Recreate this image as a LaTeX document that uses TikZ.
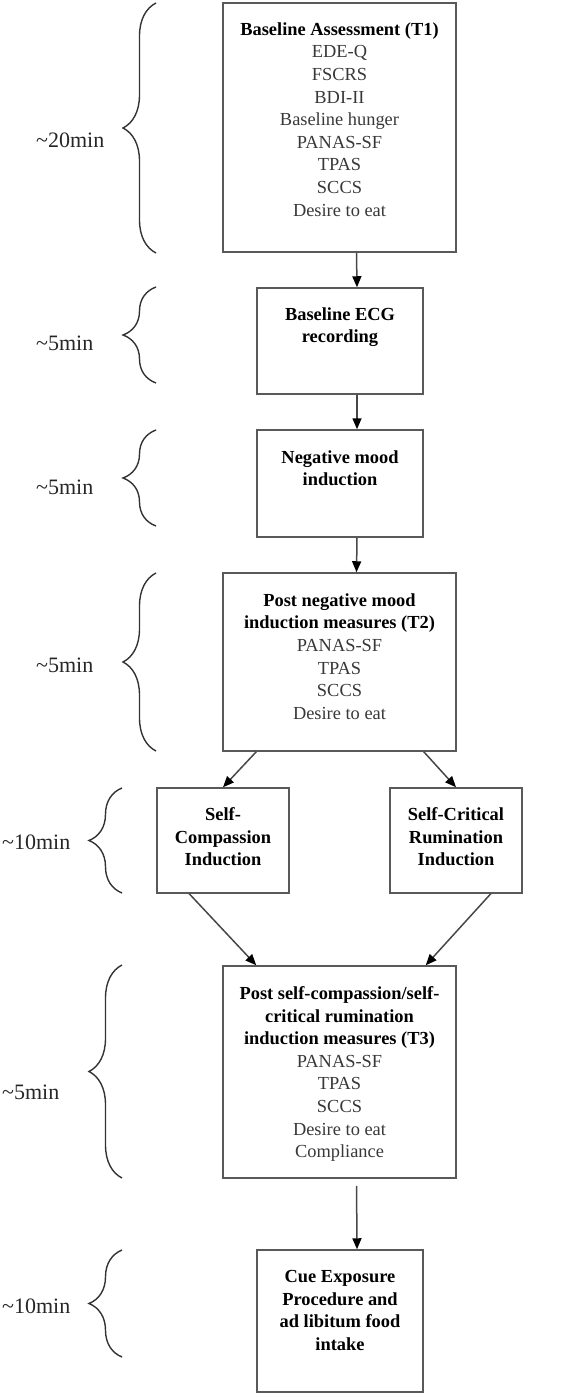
\documentclass[tikz,border=0pt]{standalone}
\usepackage{fontspec}
\setmainfont{Liberation Serif}
\usetikzlibrary{positioning,arrows.meta,decorations.pathreplacing}

\newcommand{\hd}[1]{\textcolor{black}{\textbf{#1}}}

\tikzset{
	box/.style={draw=black!65, line width=1.5pt, inner sep=0pt},
	boxtext/.style={align=center, inner sep=0pt, text=black!78, font=\fontsize{18.4}{22.6}\selectfont},
	flow/.style={draw=black!72, line width=1.5pt, -{Triangle[length=11pt,width=9pt,color=black]}},
	timebrace/.style={draw=black!80, line width=1.4pt, decorate, decoration={brace,amplitude=33pt}},
	duration/.style={anchor=west, inner sep=0pt, text=black!85, font=\fontsize{22}{26}\selectfont}
}

\begin{document}
\begin{tikzpicture}[x=1pt,y=-1pt]
	\useasboundingbox (0,0) rectangle (561,1394);
	
	% Define the boxes of the procedure
	\node[box, minimum width=233pt, minimum height=249pt] (base) at (339.5,127.5) {};
	\node[box, minimum width=166pt, minimum height=106pt] (ecg) at (340,341) {};
	\node[box, minimum width=166pt, minimum height=107pt] (mood) at (340,483.5) {};
	\node[box, minimum width=233pt, minimum height=178pt] (postmood) at (339.5,662) {};
	\node[box, minimum width=132pt, minimum height=105pt] (compassion) at (223,840.5) {};
	\node[box, minimum width=132pt, minimum height=105pt] (critical) at (456,840.5) {};
	\node[box, minimum width=233pt, minimum height=212pt] (postind) at (339.5,1072) {};
	\node[box, minimum width=166pt, minimum height=142pt] (cue) at (340,1321) {};
	
	% Write the text into the boxes
	\node[boxtext, below=20pt of base.north] (base-txt) {\hd{Baseline Assessment (T1)}\\EDE-Q\\FSCRS\\BDI-II\\Baseline hunger\\PANAS-SF\\TPAS\\SCCS\\Desire to eat};
	\node[boxtext, below=20pt of ecg.north] (ecg-txt) {\hd{Baseline ECG}\\\hd{recording}};
	\node[boxtext, below=21pt of mood.north] (mood-txt) {\hd{Negative mood}\\\hd{induction}};
	\node[boxtext, below=21pt of postmood.north] (postmood-txt) {\hd{Post negative mood}\\\hd{induction measures (T2)}\\PANAS-SF\\TPAS\\SCCS\\Desire to eat};
	\node[boxtext, below=20pt of compassion.north] (compassion-txt) {\hd{Self-}\\\hd{Compassion}\\\hd{Induction}};
	\node[boxtext, below=20pt of critical.north] (critical-txt) {\hd{Self-Critical}\\\hd{Rumination}\\\hd{Induction}};
	\node[boxtext, below=21pt of postind.north] (postind-txt) {\hd{Post self-compassion/self-}\\\hd{critical rumination}\\\hd{induction measures (T3)}\\PANAS-SF\\TPAS\\SCCS\\Desire to eat\\Compliance};
	\node[boxtext, below=21pt of cue.north] (cue-txt) {\hd{Cue Exposure}\\\hd{Procedure and}\\\hd{ad libitum food}\\\hd{intake}};
	
	% Draw the arrows between the boxes
	\draw[flow] ([xshift=17pt]base.south) -- ([xshift=17pt]ecg.north);
	\draw[flow] ([xshift=17pt]ecg.south) -- ([xshift=17pt]mood.north);
	\draw[flow] ([xshift=17pt]mood.south) -- ([xshift=17pt]postmood.north);
	\draw[flow] ([xshift=34pt]postmood.south west) -- (compassion.north);
	\draw[flow] ([xshift=-33pt]postmood.south east) -- (critical.north);
	\draw[flow] ([xshift=33pt]compassion.south west) -- ([xshift=34pt]postind.north west);
	\draw[flow] ([xshift=-32pt]critical.south east) -- ([xshift=-31pt]postind.north east);
	\draw[flow, shorten <=7pt] ([xshift=17pt]postind.south) -- ([xshift=17pt]cue.north);
	
	% Draw the braces with the durations
	\draw[timebrace] (156,253) -- (156,3);
	\draw[timebrace] (156,383) -- (156,287);
	\draw[timebrace] (156,526) -- (156,430);
	\draw[timebrace] (156,751) -- (156,573);
	\draw[timebrace] (122,893) -- (122,788);
	\draw[timebrace] (122,1178) -- (122,965);
	\draw[timebrace] (122,1357) -- (122,1250);
	
	\node[duration] (t-base) at (36,140) {\textasciitilde 20min};
	\node[duration] (t-ecg) at (36,343) {\textasciitilde 5min};
	\node[duration] (t-mood) at (36,487) {\textasciitilde 5min};
	\node[duration] (t-postmood) at (36,665) {\textasciitilde 5min};
	\node[duration] (t-induction) at (2,842) {\textasciitilde 10min};
	\node[duration] (t-postind) at (2,1092) {\textasciitilde 5min};
	\node[duration] (t-cue) at (2,1306) {\textasciitilde 10min};
\end{tikzpicture}
\end{document}
